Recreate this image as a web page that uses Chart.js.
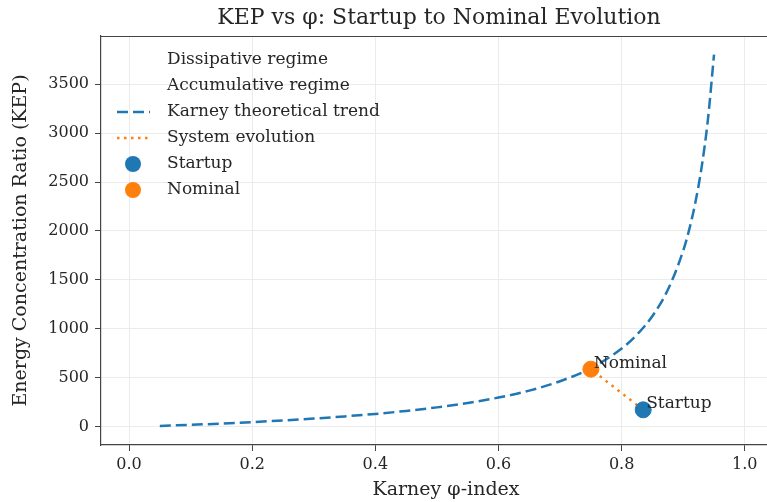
<!DOCTYPE html>
<html>
<head>
<meta charset="utf-8">
<script src="https://cdn.jsdelivr.net/npm/chart.js@4.4.1/dist/chart.umd.min.js"></script>
<style>
  html, body { margin: 0; padding: 0; background: #ffffff; overflow: hidden; }
  #wrap { width: 767px; height: 502px; overflow: hidden; position: relative; }
  #c { position: absolute; left: 0; top: 0; }
</style>
</head>
<body>
<div id="wrap"><canvas id="c" width="800" height="502"></canvas></div>
<script>
// Karney theoretical trend: phi-index against KEP
const trendPhi = [0.05, 0.10, 0.15, 0.20, 0.25, 0.30, 0.35, 0.40, 0.45, 0.50, 0.55, 0.60, 0.65, 0.70, 0.75, 0.80, 0.825, 0.85, 0.875, 0.90, 0.91, 0.92, 0.93, 0.94, 0.95];
const trendKep = [11, 22, 35, 50, 67, 86, 108, 133, 164, 200, 244, 300, 371, 467, 600, 800, 943, 1133, 1400, 1800, 2022, 2300, 2657, 3133, 3800];

// Operating states
const stateNames = ['Startup', 'Nominal'];
const statePhi = [0.835, 0.75];
const stateKep = [175, 590];

// Axis ticks
const xTicks = [0.0, 0.2, 0.4, 0.6, 0.8, 1.0];
const yTicks = [0, 500, 1000, 1500, 2000, 2500, 3000, 3500];

const BLUE = '#1f77b4';
const ORANGE = '#ff7f0e';
const FONT = "'DejaVu Serif', serif";
const INK = '#262626';

const trendPts = trendPhi.map((x, i) => ({ x, y: trendKep[i] }));
const evoPts = statePhi.map((x, i) => ({ x, y: stateKep[i] }));

const framePlugin = {
  id: 'frameAndTitle',
  afterDraw(chart) {
    const { ctx, chartArea } = chart;
    ctx.save();
    // top spine
    ctx.strokeStyle = '#444';
    ctx.lineWidth = 1.2;
    ctx.beginPath();
    ctx.moveTo(chartArea.left, chartArea.top + 0.5);
    ctx.lineTo(chartArea.right, chartArea.top + 0.5);
    ctx.stroke();
    // title
    ctx.font = `22px ${FONT}`;
    ctx.fillStyle = INK;
    ctx.textAlign = 'center';
    ctx.textBaseline = 'middle';
    ctx.fillText('KEP vs φ: Startup to Nominal Evolution', 439, 18);
    ctx.restore();
  }
};

const pointLabels = {
  id: 'pointLabels',
  afterDatasetsDraw(chart) {
    const { ctx } = chart;
    const xs = chart.scales.x, ys = chart.scales.y;
    ctx.save();
    ctx.font = `17px ${FONT}`;
    ctx.fillStyle = INK;
    ctx.textAlign = 'left';
    ctx.textBaseline = 'middle';
    stateNames.forEach((n, i) => {
      const px = xs.getPixelForValue(statePhi[i]);
      const py = ys.getPixelForValue(stateKep[i]);
      ctx.fillText(n, px + 3, py - 6);
    });
    ctx.restore();
  }
};

const legendItems = [
  { text: 'Dissipative regime', kind: 'none' },
  { text: 'Accumulative regime', kind: 'none' },
  { text: 'Karney theoretical trend', kind: 'dash', color: BLUE },
  { text: 'System evolution', kind: 'dot', color: ORANGE },
  { text: 'Startup', kind: 'circle', color: BLUE },
  { text: 'Nominal', kind: 'circle', color: ORANGE }
];

const legendPlugin = {
  id: 'innerLegend',
  afterDraw(chart) {
    const { ctx, chartArea } = chart;
    const x0 = chartArea.left + 16;
    const y0 = chartArea.top + 24;
    const step = 26;
    ctx.save();
    ctx.font = `17px ${FONT}`;
    ctx.textBaseline = 'middle';
    legendItems.forEach((it, i) => {
      const y = y0 + i * step;
      if (it.kind === 'dash' || it.kind === 'dot') {
        ctx.strokeStyle = it.color;
        ctx.lineWidth = 2.5;
        ctx.setLineDash(it.kind === 'dash' ? [11, 5] : [2.5, 4.5]);
        ctx.beginPath();
        ctx.moveTo(x0, y);
        ctx.lineTo(x0 + 33, y);
        ctx.stroke();
        ctx.setLineDash([]);
      } else if (it.kind === 'circle') {
        ctx.fillStyle = it.color;
        ctx.beginPath();
        ctx.arc(x0 + 16, y, 8, 0, Math.PI * 2);
        ctx.fill();
      }
      ctx.fillStyle = INK;
      ctx.fillText(it.text, x0 + 50, y);
    });
    ctx.restore();
  }
};

const tickFont = { family: FONT, size: 16 };
const gridCfg = { color: '#ebebeb', tickColor: '#444', tickLength: 6, lineWidth: 1 };
const borderCfg = { display: true, color: '#444', width: 1.2 };

new Chart(document.getElementById('c'), {
  type: 'scatter',
  data: {
    datasets: [
      {
        label: 'Startup',
        data: [evoPts[0]],
        backgroundColor: BLUE,
        borderColor: BLUE,
        pointRadius: 8,
        pointHoverRadius: 8,
        showLine: false,
        order: 1
      },
      {
        label: 'Nominal',
        data: [evoPts[1]],
        backgroundColor: ORANGE,
        borderColor: ORANGE,
        pointRadius: 8,
        pointHoverRadius: 8,
        showLine: false,
        order: 2
      },
      {
        label: 'System evolution',
        data: evoPts,
        showLine: true,
        borderColor: ORANGE,
        borderWidth: 2.5,
        borderDash: [2.5, 5],
        pointRadius: 0,
        fill: false,
        order: 3
      },
      {
        label: 'Karney theoretical trend',
        data: trendPts,
        showLine: true,
        borderColor: BLUE,
        borderWidth: 2.5,
        borderDash: [11, 5],
        pointRadius: 0,
        cubicInterpolationMode: 'monotone',
        fill: false,
        order: 4
      }
    ]
  },
  options: {
    responsive: false,
    animation: false,
    layout: { padding: { top: 36, left: 0, right: 0, bottom: 0 } },
    plugins: {
      legend: { display: false },
      title: { display: false },
      tooltip: { enabled: false }
    },
    scales: {
      x: {
        type: 'linear',
        min: -0.0455,
        max: 1.075,
        afterBuildTicks(s) { s.ticks = xTicks.map(v => ({ value: v })); },
        afterFit(s) { s.height = 57; },
        grid: gridCfg,
        border: borderCfg,
        ticks: { font: tickFont, color: INK, padding: 4, maxRotation: 0, callback: v => Number(v).toFixed(1) },
        title: { display: true, text: 'Karney φ-index', font: { family: FONT, size: 19 }, color: INK, padding: { top: 0, bottom: 1 } }
      },
      y: {
        type: 'linear',
        min: -184,
        max: 3990,
        afterBuildTicks(s) { s.ticks = yTicks.map(v => ({ value: v })); },
        afterFit(s) { s.width = 101; },
        grid: gridCfg,
        border: borderCfg,
        ticks: { font: tickFont, color: INK, padding: 6, callback: v => String(v) },
        title: { display: true, text: 'Energy Concentration Ratio (KEP)', font: { family: FONT, size: 19 }, color: INK, padding: { top: 10, bottom: 4 } }
      }
    }
  },
  plugins: [framePlugin, pointLabels, legendPlugin]
});
</script>
</body>
</html>
